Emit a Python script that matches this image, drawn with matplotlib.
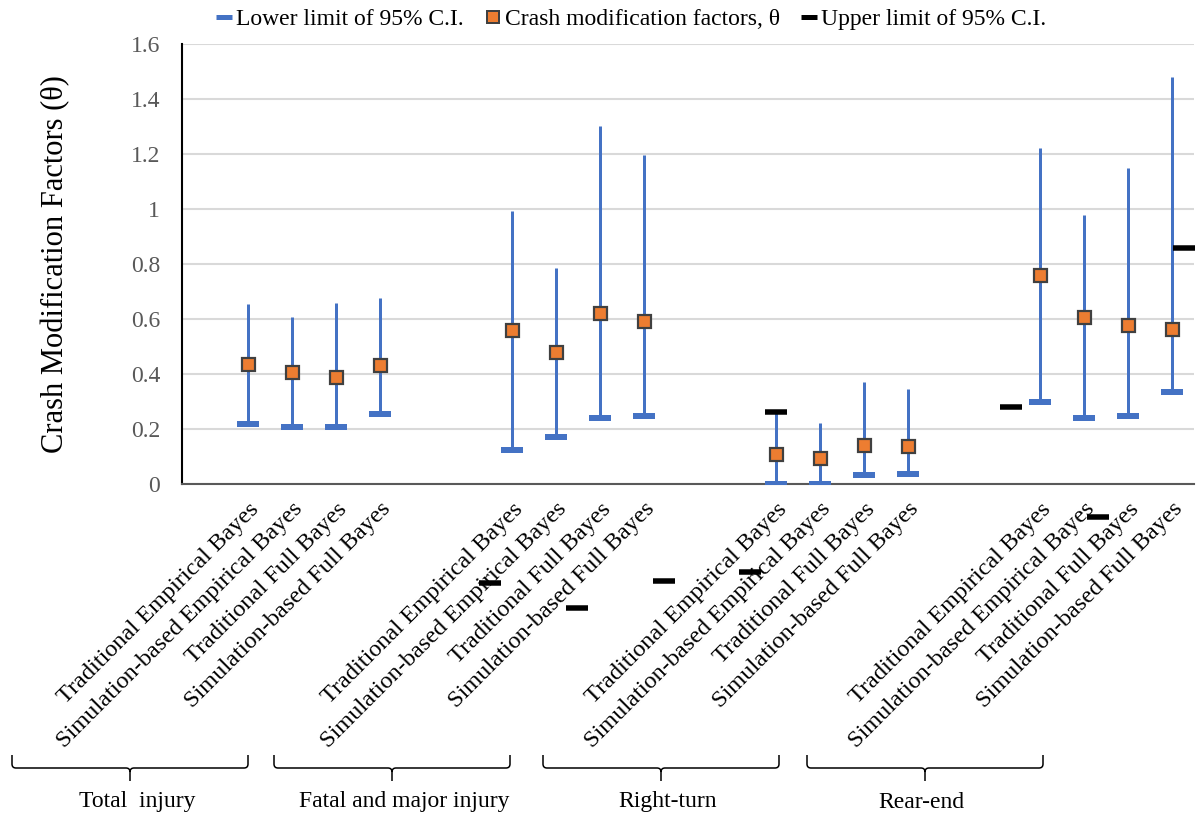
import matplotlib
matplotlib.use("Agg")
import matplotlib.pyplot as plt
from matplotlib.lines import Line2D
from matplotlib.path import Path
from matplotlib.patches import PathPatch
import matplotlib.transforms as mtransforms

# ---------------- data ----------------
methods = ["Traditional Empirical Bayes", "Simulation-based Empirical Bayes",
           "Traditional Full Bayes", "Simulation-based Full Bayes"]
groups = ["Total  injury", "Fatal and major injury", "Right-turn", "Rear-end"]

lower_total = [0.217, 0.207, 0.207, 0.255]
lower_fatal = [0.122, 0.170, 0.239, 0.245]
lower_right = [0.000, 0.000, 0.032, 0.035]
lower_rear = [0.297, 0.238, 0.247, 0.333]

cmf_total = [0.437, 0.407, 0.387, 0.430]
cmf_fatal = [0.558, 0.479, 0.620, 0.591]
cmf_right = [0.109, 0.095, 0.141, 0.138]
cmf_rear = [0.759, 0.607, 0.576, 0.561]

upper_total = [0.653, 0.606, 0.658, 0.674]
upper_fatal = [0.990, 0.784, 1.300, 1.195]
upper_right = [0.260, 0.222, 0.370, 0.343]
upper_rear = [1.220, 0.976, 1.149, 1.478]

# stray "upper limit" dash markers visible in the picture (category units, value units)
stray_x = [13.0, 6.49, 8.48, 10.45, 12.40, 20.31, 18.34, 22.27]
stray_y = [0.260, -0.361, -0.452, -0.354, -0.321, -0.121, 0.279, 0.856]

y_ticks = [0, 0.2, 0.4, 0.6, 0.8, 1.0, 1.2, 1.4, 1.6]
y_tick_labels = ["0", "0.2", "0.4", "0.6", "0.8", "1", "1.2", "1.4", "1.6"]

lower = [lower_total, lower_fatal, lower_right, lower_rear]
cmf = [cmf_total, cmf_fatal, cmf_right, cmf_rear]
upper = [upper_total, upper_fatal, upper_right, upper_rear]

# ---------------- style ----------------
W, H = 1196, 816
BLUE = "#4472C4"
ORANGE = "#ED7D31"
EDGE = "#404040"
SERIF = ["Liberation Serif", "DejaVu Serif"]
plt.rcParams["font.family"] = SERIF
PX = 72.0 / 100.0  # points per pixel at dpi 100

fig = plt.figure(figsize=(W / 100, H / 100), dpi=100)
ax = fig.add_axes([182 / W, 1 - 483.7 / H, 1012 / W, 440 / H])

xs, lo, mid, hi, labels = [], [], [], [], []
for g in range(len(groups)):
    for m in range(len(methods)):
        xs.append(1 + 6 * g + m)
        lo.append(lower[g][m])
        mid.append(cmf[g][m])
        hi.append(upper[g][m])
        labels.append(methods[m])

ax.vlines(xs, lo, hi, color=BLUE, lw=3 * PX, zorder=3)
ax.plot(xs, lo, ls="none", marker="_", ms=23 * PX, mew=6 * PX, color=BLUE,
        zorder=4, solid_capstyle="butt")
ax.plot(xs, mid, ls="none", marker="s", ms=13 * PX, mew=2.2 * PX,
        mfc=ORANGE, mec=EDGE, zorder=5)
ax.plot(stray_x, stray_y, ls="none", marker="_", ms=23 * PX, mew=5.5 * PX,
        color="black", zorder=6, clip_on=False)

ax.set_xlim(-0.5, 22.5)
ax.set_ylim(0, 1.6)
ax.set_yticks(y_ticks)
ax.set_yticklabels(y_tick_labels, fontsize=17, color="#595959")
ax.grid(axis="y", color="#D9D9D9", lw=1.5)
ax.set_axisbelow(True)
ax.tick_params(axis="both", length=0)
ax.tick_params(axis="y", pad=22 * PX)

ax.set_xticks(xs)
ax.set_xticklabels(labels, rotation=45, ha="right", va="top",
                   rotation_mode="anchor", fontsize=17.5, color="black")
offset = mtransforms.ScaledTranslation(-4 / 100, 0, fig.dpi_scale_trans)
for t in ax.get_xticklabels():
    t.set_transform(t.get_transform() + offset)
ax.tick_params(axis="x", pad=15 * PX)

for s in ["top", "right"]:
    ax.spines[s].set_visible(False)
ax.spines["left"].set_color("black")
ax.spines["left"].set_linewidth(1.5)
ax.spines["bottom"].set_color("#595959")
ax.spines["bottom"].set_linewidth(1.5)

ax.set_ylabel("Crash Modification Factors (\u03b8)", fontsize=22, color="black")
ax.yaxis.set_label_coords((70 - 182) / 1012, 0.5)

# legend
handles = [
    Line2D([], [], ls="none", marker="_", ms=16 * PX, mew=5 * PX, color=BLUE),
    Line2D([], [], ls="none", marker="s", ms=12 * PX, mew=2 * PX, mfc=ORANGE, mec=EDGE),
    Line2D([], [], ls="none", marker="_", ms=16 * PX, mew=5 * PX, color="black"),
]
leg_labels = ["Lower limit of 95% C.I.", "Crash modification factors, \u03b8",
              "Upper limit of 95% C.I."]
fig.legend(handles, leg_labels, loc="center", bbox_to_anchor=(631 / W, 1 - 19 / H),
           ncol=3, frameon=False, fontsize=17, handlelength=0.7,
           handletextpad=0.15, columnspacing=0.9, borderaxespad=0)

# group brackets at the bottom (figure pixel layout)
bracket_left = [12, 274, 543, 807]
bracket_right = [248, 510, 779, 1043]
bracket_mid = [130, 392, 661, 925]
group_label_x = [137, 404, 668, 921]
top_y, bar_y, tip_y, r = 755, 768, 781, 4


def fpt(x, y):
    return (x / W, 1 - y / H)


for xl, xr, xc, xt, name in zip(bracket_left, bracket_right, bracket_mid,
                                group_label_x, groups):
    verts = [fpt(xl, top_y), fpt(xl, bar_y - r), fpt(xl, bar_y), fpt(xl + r, bar_y),
             fpt(xc - r, bar_y), fpt(xc, bar_y), fpt(xc, bar_y + r), fpt(xc, tip_y),
             fpt(xc, bar_y + r), fpt(xc, bar_y), fpt(xc + r, bar_y),
             fpt(xr - r, bar_y), fpt(xr, bar_y), fpt(xr, bar_y - r), fpt(xr, top_y)]
    codes = [Path.MOVETO, Path.LINETO, Path.CURVE3, Path.CURVE3,
             Path.LINETO, Path.CURVE3, Path.CURVE3, Path.LINETO,
             Path.MOVETO, Path.CURVE3, Path.CURVE3,
             Path.LINETO, Path.CURVE3, Path.CURVE3, Path.LINETO]
    fig.patches.append(PathPatch(Path(verts, codes), transform=fig.transFigure,
                                 fill=False, ec="black", lw=1.1, figure=fig))
    fig.text(xt / W, 1 - 802 / H, name, ha="center", va="center", fontsize=17,
             color="black")

fig.savefig("out.png", dpi=100)
